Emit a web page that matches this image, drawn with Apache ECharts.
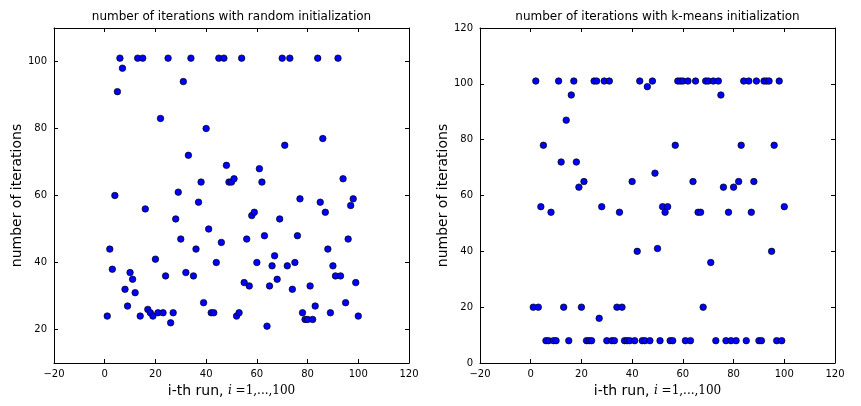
<!DOCTYPE html>
<html><head><meta charset="utf-8">
<script src="https://cdn.jsdelivr.net/npm/echarts@6/dist/echarts.min.js"></script>
<style>html,body{margin:0;padding:0;background:#fff}#c{width:861px;height:406px}</style>
</head><body><div id="c"></div>
<script>
// run index i = 1..100
const runs = [];
for (let i = 1; i <= 100; i++) runs.push(i);

// iterations with random initialization (run 1..100)
const randomIters = [
  24,44,38,60,91,101,98,32,27,37,
  35,31,101,24,101,56,26,25,24,41,
  25,83,25,36,101,22,25,53,61,47,
  94,37,72,101,36,44,58,64,28,80,
  50,25,25,40,101,46,101,69,64,64,
  65,24,25,101,34,47,33,54,55,40,
  68,64,48,21,33,39,42,35,53,101,
  75,39,101,32,40,48,59,25,23,23,
  33,23,27,101,58,77,55,44,25,39,
  36,101,36,65,28,47,57,59,34,24
];

// iterations with k-means initialization (run 1..100)
const kmeansIters = [
  20,101,20,56,78,8,8,54,8,8,
  101,72,20,87,8,96,101,72,63,20,
  65,8,8,8,101,101,16,56,101,8,
  101,8,8,20,54,20,8,8,8,65,
  8,40,101,8,8,99,8,101,68,41,
  8,56,54,56,8,8,78,101,101,101,
  8,101,8,65,101,54,54,20,101,101,
  36,101,8,101,96,63,8,54,8,63,
  8,65,78,101,8,101,54,65,101,8,
  8,101,101,101,40,78,8,101,8,56
];

const xTickValues = [-20,0,20,40,60,80,100,120];
const leftYTickValues = [20,40,60,80,100];
const rightYTickValues = [0,20,40,60,80,100,120];

const titles = ['number of iterations with random initialization',
                'number of iterations with k-means initialization'];
const yName = 'number of iterations';

const FONT = 'DejaVu Sans';
const minus = v => String(v).replace('-', '\u2212');

const grids = [
  {left: 54, top: 28, width: 355, height: 335},
  {left: 480, top: 28, width: 355, height: 335}
];

function mainX(gi) {
  return {
    type: 'value', gridIndex: gi, position: 'bottom', min: -20, max: 120, interval: 20,
    axisLine: {show: true, onZero: false, lineStyle: {color: '#000', width: 1}},
    axisTick: {show: true, inside: true, length: 4, lineStyle: {color: '#000'}},
    axisLabel: {color: '#000', fontFamily: FONT, fontSize: 10, margin: 6, formatter: minus},
    splitLine: {show: false},
    name: '{a|i-th run, }{m|i}{r| =1,...,100}',
    nameLocation: 'middle', nameGap: 19,
    nameTextStyle: {
      rich: {
        a: {fontFamily: FONT, fontSize: 14, color: '#000'},
        m: {fontFamily: 'DejaVu Serif', fontStyle: 'italic', fontSize: 12, color: '#000'},
        r: {fontFamily: 'DejaVu Serif', fontSize: 12, color: '#000'}
      }
    }
  };
}
function topX(gi) {
  return {
    type: 'value', gridIndex: gi, position: 'top', min: -20, max: 120, interval: 20,
    axisLine: {show: true, onZero: false, lineStyle: {color: '#000', width: 1}},
    axisTick: {show: true, inside: true, length: 4, lineStyle: {color: '#000'}},
    axisLabel: {show: false}, splitLine: {show: false}
  };
}
function mainY(gi, min, max, ticks) {
  return {
    type: 'value', gridIndex: gi, position: 'left', min: min, max: max,
    axisLine: {show: true, onZero: false, lineStyle: {color: '#000', width: 1}},
    axisTick: {show: true, inside: true, length: 4, lineStyle: {color: '#000'}, customValues: ticks},
    axisLabel: {color: '#000', fontFamily: FONT, fontSize: 10, margin: 7, customValues: ticks},
    splitLine: {show: false},
    name: yName, nameLocation: 'middle', nameGap: 25,
    nameTextStyle: {fontFamily: FONT, fontSize: 14, color: '#000'}
  };
}
function rightY(gi, min, max, ticks) {
  return {
    type: 'value', gridIndex: gi, position: 'right', min: min, max: max,
    axisLine: {show: true, onZero: false, lineStyle: {color: '#000', width: 1}},
    axisTick: {show: true, inside: true, length: 4, lineStyle: {color: '#000'}, customValues: ticks},
    axisLabel: {show: false}, splitLine: {show: false}
  };
}

const zip = vals => runs.map((r, i) => [r, vals[i]]);

const scatterStyle = {
  type: 'scatter', symbol: 'circle', symbolSize: 6.5,
  itemStyle: {color: '#0000ff', borderColor: '#000', borderWidth: 0.7, opacity: 1},
  emphasis: {disabled: true}, animation: false
};

const option = {
  backgroundColor: '#fff',
  animation: false,
  title: [
    {text: titles[0], left: 231.5, top: 11, padding: 0, textAlign: 'center',
     textStyle: {fontFamily: FONT, fontSize: 12, fontWeight: 'normal', color: '#000'}},
    {text: titles[1], left: 657.5, top: 11, padding: 0, textAlign: 'center',
     textStyle: {fontFamily: FONT, fontSize: 12, fontWeight: 'normal', color: '#000'}}
  ],
  grid: grids,
  xAxis: [mainX(0), mainX(1), topX(0), topX(1)],
  yAxis: [mainY(0, 10, 110, leftYTickValues), mainY(1, 0, 120, rightYTickValues),
          rightY(0, 10, 110, leftYTickValues), rightY(1, 0, 120, rightYTickValues)],
  series: [
    Object.assign({}, scatterStyle, {name: 'random', xAxisIndex: 0, yAxisIndex: 0, data: zip(randomIters)}),
    Object.assign({}, scatterStyle, {name: 'kmeans', xAxisIndex: 1, yAxisIndex: 1, data: zip(kmeansIters)})
  ]
};

const chart = echarts.init(document.getElementById('c'), null, {renderer: 'canvas'});
chart.setOption(option);
</script>
</body></html>
